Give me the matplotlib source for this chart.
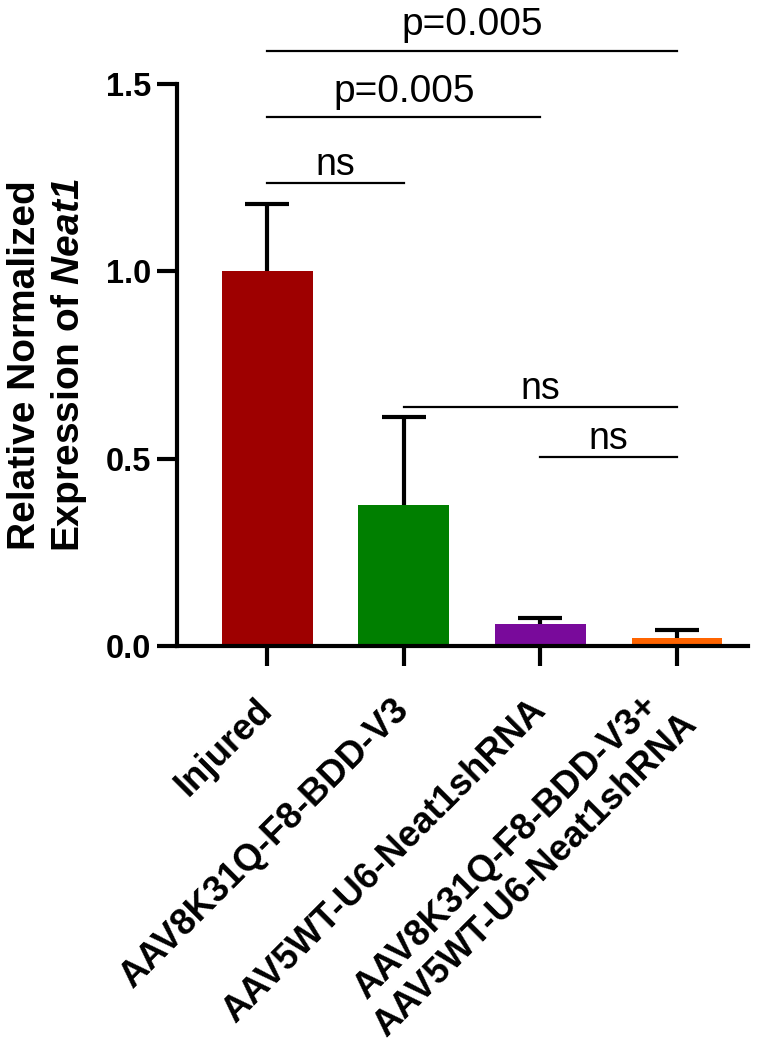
import numpy as np
import matplotlib.pyplot as plt

plt.rcParams["font.family"] = ["Liberation Sans", "DejaVu Sans"]
plt.rcParams["mathtext.fontset"] = "custom"
plt.rcParams["mathtext.bfit"] = "Liberation Sans:bold:italic"
plt.rcParams["mathtext.bf"] = "Liberation Sans:bold"

# Data
groups = ["Injured", "AAV8K31Q-F8-BDD-V3", "AAV5WT-U6-Neat1shRNA",
          "AAV8K31Q-F8-BDD-V3+\nAAV5WT-U6-Neat1shRNA"]
means = [1.0, 0.376, 0.059, 0.021]
errs = [0.179, 0.235, 0.016, 0.022]
colors = ["#9e0000", "#007f00", "#790a9b", "#ff6400"]

# Comparisons: (group a, group b, bracket height, label)
comp_a = [0, 0, 0, 1, 2]
comp_b = [1, 2, 3, 3, 3]
comp_y = [1.235, 1.411, 1.589, 0.637, 0.504]
comp_txt = ["ns", "p=0.005", "p=0.005", "ns", "ns"]

fig = plt.figure(figsize=(7.77, 10.6), dpi=100)
W, H = 777.0, 1060.0
ax = fig.add_axes([177 / W, (H - 646) / H, (748 - 177) / W, (646 - 84) / H])

x = np.arange(len(groups))
ax.bar(x, means, width=0.665, color=colors, edgecolor="none", zorder=2)

# Upper error bars only
_, caps, _ = ax.errorbar(x, means, yerr=[np.zeros(len(errs)), errs], fmt="none",
                         ecolor="black", elinewidth=3, capsize=16, capthick=3,
                         zorder=3)
caps[0].set_visible(False)

# Significance brackets
for a, b, y, t in zip(comp_a, comp_b, comp_y, comp_txt):
    ax.plot([a, b], [y, y], color="black", lw=1.6, clip_on=False, zorder=4)
    off = 11 if t.startswith("p") else 6
    ax.annotate(t, xy=((a + b) / 2, y), xytext=(0, off), textcoords="offset points",
                ha="center", va="baseline", fontsize=27 if t == "ns" else 28,
                annotation_clip=False)

ax.set_xlim(-0.66, 3.52)
ax.set_ylim(0, 1.5)
ax.set_yticks([0.0, 0.5, 1.0, 1.5])
ax.set_yticklabels(["0.0", "0.5", "1.0", "1.5"])
ax.set_xticks(x)
ax.set_xticklabels(groups, rotation=45, ha="right", va="center",
                   rotation_mode="anchor", multialignment="center")

for s in ["top", "right"]:
    ax.spines[s].set_visible(False)
for s in ["left", "bottom"]:
    ax.spines[s].set_linewidth(3)

ax.tick_params(axis="both", width=3, length=14.5, colors="black")
ax.tick_params(axis="y", pad=4, labelsize=23.5)
ax.tick_params(axis="x", pad=28, labelsize=26.3)
for lab in ax.get_xticklabels() + ax.get_yticklabels():
    lab.set_fontweight("bold")

ax.set_ylabel("Relative Normalized\nExpression of $\\mathbfit{Neat1}$",
              fontsize=28, fontweight="bold", labelpad=12)

fig.savefig("out.png", dpi=100)
